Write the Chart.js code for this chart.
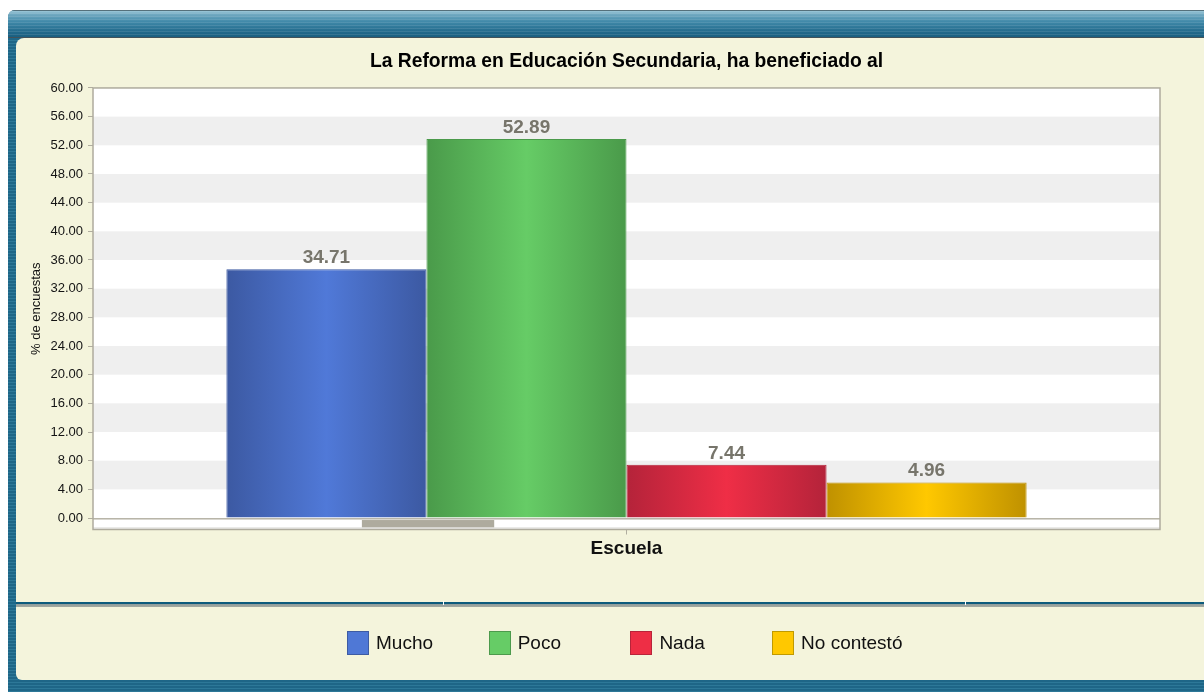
<!DOCTYPE html>
<html>
<head>
<meta charset="utf-8">
<title>La Reforma en Educación Secundaria</title>
<script src="https://cdn.jsdelivr.net/npm/chart.js@4.4.1/dist/chart.umd.min.js"></script>
<style>
  html, body { margin: 0; padding: 0; background: #ffffff; width: 1204px; height: 692px; overflow: hidden;
    font-family: "Liberation Sans", Arial, Helvetica, sans-serif; }
  #frame { position: absolute; left: 8px; top: 10px; width: 1210px; height: 690px; border-radius: 7px 0 0 0;
    background: repeating-linear-gradient(to bottom, #2d7898 0, #2d7898 1px, #1e6687 1px, #1e6687 3px); }
  #topbar { position: absolute; left: 8px; top: 10px; width: 1210px; height: 28px; border-radius: 7px 0 0 0;
    background:
      repeating-linear-gradient(to bottom, rgba(255,255,255,0.10) 0, rgba(255,255,255,0.10) 1px, rgba(0,0,0,0) 1px, rgba(0,0,0,0) 3px),
      linear-gradient(to bottom, #42606c 0, #42606c 1px, #9cc7d8 1px, #74abc2 4px, #3f88a8 12px, #21698b 22px, #1a5f80 27px, #2c3e46 27px); }
  #panel1 { position: absolute; left: 16px; top: 38px; width: 1190px; height: 564px; background: #f4f4dc; border-radius: 8px 0 0 0; }
  #divider { position: absolute; left: 16px; top: 602px; width: 1190px; height: 5px;
    background: linear-gradient(to bottom, #0d5b7c 0, #0d5b7c 2px, #8e9b9c 2px, #a4aaa0 5px); }
  .sep { position: absolute; top: 601px; width: 1px; height: 4px; background: #ffffff; }
  #panel2 { position: absolute; left: 16px; top: 607px; width: 1190px; height: 73px; background: #f4f4dc; border-radius: 0 0 0 6px; }
  #chart { position: absolute; left: 0; top: 0; }
  #legend { position: absolute; left: 347px; top: 631px; display: flex; }
  #legend .item { width: 141.7px; height: 24px; display: flex; align-items: center; }
  #legend .box { width: 22px; height: 24px; box-sizing: border-box; border: 1px solid; margin-right: 7px; flex: none; }
  #legend .txt { font-size: 19px; color: #111111; white-space: nowrap; }
</style>
</head>
<body>
<div id="frame"></div>
<div id="topbar"></div>
<div id="panel1"></div>
<div id="divider"></div>
<div class="sep" style="left:443px"></div>
<div class="sep" style="left:965px"></div>
<div id="panel2"></div>
<canvas id="chart" width="1204" height="692"></canvas>
<div id="legend"></div>

<script>
// Survey results: share of answers (%) per option
const categories = ['Escuela'];
const seriesNames = ['Mucho', 'Poco', 'Nada', 'No contestó'];
const mucho = [34.71];
const poco = [52.89];
const nada = [7.44];
const noContesto = [4.96];
const yTicks = [0, 4, 8, 12, 16, 20, 24, 28, 32, 36, 40, 44, 48, 52, 56, 60];

// Bar shading: darker edges, lighter middle
const edgeColors = ['#3c59a2', '#4a9a4a', '#b4233a', '#bf9100'];
const midColors  = ['#5079d8', '#66cc66', '#ef2e46', '#ffc800'];
const boxColors  = ['#4f78d6', '#66cc66', '#ee2e45', '#ffc800'];
const boxBorders = ['#3d5ba3', '#4c9a4c', '#b8243a', '#c09a00'];

const FONT = '"Liberation Sans", Arial, Helvetica, sans-serif';
const CAT_PCT = 0.75;
const Y_MIN = -1.6;

function barFill(ctx) {
  const chart = ctx.chart;
  const i = ctx.datasetIndex;
  const xs = chart.scales.x;
  if (!chart.chartArea || !xs) return midColors[i];
  const n = chart.data.datasets.length;
  const group = (xs.width / categories.length) * CAT_PCT;
  const center = xs.getPixelForValue(ctx.dataIndex);
  const left = center - group / 2 + i * group / n;
  const g = chart.ctx.createLinearGradient(left, 0, left + group / n, 0);
  g.addColorStop(0, edgeColors[i]);
  g.addColorStop(0.5, midColors[i]);
  g.addColorStop(1, edgeColors[i]);
  return g;
}

// White/grey alternating bands behind the bars
const plotBackdrop = {
  id: 'plotBackdrop',
  beforeDraw(chart) {
    const { ctx, chartArea: a, scales: { y } } = chart;
    ctx.save();
    ctx.fillStyle = '#ffffff';
    ctx.fillRect(a.left, a.top, a.width, a.height);
    ctx.fillStyle = '#efefef';
    for (let k = 0; k < yTicks.length - 1; k++) {
      if (k % 2 === 1) {
        const t = y.getPixelForValue(yTicks[k + 1]);
        const b = y.getPixelForValue(yTicks[k]);
        ctx.fillRect(a.left, t, a.width, b - t);
      }
    }
    ctx.restore();
  },
  beforeDatasetsDraw(chart) {
    const { ctx, chartArea: a, scales: { y } } = chart;
    const y0 = y.getPixelForValue(0);
    ctx.save();
    // floor strip under the zero line
    ctx.fillStyle = '#aeab9e';
    ctx.fillRect(a.left + a.width * 0.252, y0 + 2, a.width * 0.124, a.bottom - y0 - 4);
    ctx.fillStyle = '#d6d6d2';
    ctx.fillRect(a.left, a.bottom - 2, a.width, 1);
    ctx.fillStyle = '#b6b3a6';
    ctx.fillRect(a.left, y0, a.width, 1.5);
    // plot frame
    ctx.strokeStyle = '#aeab9d';
    ctx.lineWidth = 1.5;
    ctx.strokeRect(a.left, a.top, a.width, a.height);
    ctx.restore();
  }
};

// Value written above each bar
const valueLabels = {
  id: 'valueLabels',
  afterDatasetsDraw(chart) {
    const c = chart.ctx;
    c.save();
    c.font = 'bold 19px ' + FONT;
    c.fillStyle = '#77756b';
    c.textAlign = 'center';
    c.textBaseline = 'alphabetic';
    chart.data.datasets.forEach((ds, i) => {
      chart.getDatasetMeta(i).data.forEach((el, j) => {
        c.fillText(ds.data[j].toFixed(2), el.x, el.y - 6);
      });
    });
    c.restore();
  }
};

const seriesData = [mucho, poco, nada, noContesto];

new Chart(document.getElementById('chart'), {
  type: 'bar',
  data: {
    labels: categories,
    datasets: seriesNames.map((name, i) => ({
      label: name,
      data: seriesData[i],
      backgroundColor: barFill,
      borderColor: edgeColors[i],
      borderWidth: 1,
      borderSkipped: 'bottom',
      barPercentage: 1.0,
      categoryPercentage: CAT_PCT
    }))
  },
  options: {
    responsive: false,
    animation: false,
    events: [],
    layout: { padding: { top: 40, left: 20, right: 44, bottom: 132.5 } },
    plugins: {
      legend: { display: false },
      tooltip: { enabled: false },
      title: {
        display: true,
        fullSize: false,
        text: 'La Reforma en Educación Secundaria, ha beneficiado al',
        color: '#000000',
        font: { family: FONT, size: 19.3, weight: 'bold' },
        padding: { top: 9.9, bottom: 14.9 }
      }
    },
    scales: {
      x: {
        afterFit(scale) { scale.height = 30; },
        grid: { drawOnChartArea: false, drawTicks: true, tickLength: 5, color: '#b0ad9f', offset: false },
        border: { display: false },
        ticks: { color: '#111111', font: { family: FONT, size: 19, weight: 'bold' }, padding: 3 }
      },
      y: {
        min: Y_MIN,
        max: 60,
        afterFit(scale) { scale.width = 73; },
        afterBuildTicks(scale) { scale.ticks = yTicks.map(v => ({ value: v })); },
        grid: { drawOnChartArea: false, drawTicks: true, tickLength: 5, color: '#b0ad9f' },
        border: { display: false },
        ticks: {
          color: '#141414',
          font: { family: FONT, size: 13 },
          padding: 5,
          callback: v => Number(v).toFixed(2)
        },
        title: {
          display: true,
          text: '% de encuestas',
          color: '#111111',
          font: { family: FONT, size: 13 },
          padding: { top: 9, bottom: 0 }
        }
      }
    }
  },
  plugins: [plotBackdrop, valueLabels]
});

// Legend row in the lower panel
const legend = document.getElementById('legend');
seriesNames.forEach((name, i) => {
  const item = document.createElement('div');
  item.className = 'item';
  const box = document.createElement('span');
  box.className = 'box';
  box.style.background = boxColors[i];
  box.style.borderColor = boxBorders[i];
  const txt = document.createElement('span');
  txt.className = 'txt';
  txt.textContent = name;
  item.appendChild(box);
  item.appendChild(txt);
  legend.appendChild(item);
});
</script>
</body>
</html>
